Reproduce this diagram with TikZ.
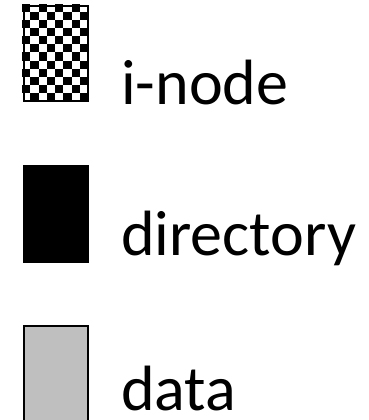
\documentclass[tikz,border=0pt]{standalone}
\usepackage{fontspec}
\setmainfont{Carlito}
\usepackage{tikz}

\tikzset{
    legendbox/.style={draw=black, line width=2pt, minimum width=64pt, inner sep=0pt, anchor=north west},
    legendtext/.style={anchor=base west, inner sep=0pt, font=\fontsize{64}{64}\selectfont}
}

\begin{document}
\begin{tikzpicture}[x=1pt, y=-1pt]
    \useasboundingbox (0,0) rectangle (368,420);
    \clip (0,0) rectangle (368,420);
    % checker cells of the i-node sample
    \foreach \i in {0,...,7} {
        \foreach \j in {0,...,11} {
            \pgfmathtruncatemacro\cellodd{mod(\i+\j,2)}
            \ifnum\cellodd=0
                \fill (22+8.25*\i, 4+8.083*\j) rectangle ++(8.25,8.083);
            \fi
        }
    }
    \node[legendbox, minimum height=95pt] (inode) at (23,5) {};
    \node[legendbox, fill=black, minimum height=96pt] (dir) at (23,165) {};
    \node[legendbox, fill=black!25, minimum height=110pt] (data) at (23,325) {};
    \node[legendtext] (inodetext) at (121,104) {i-node};
    \node[legendtext] (dirtext) at (121,255) {directory};
    \node[legendtext] (datatext) at (121,410) {data};
\end{tikzpicture}
\end{document}
